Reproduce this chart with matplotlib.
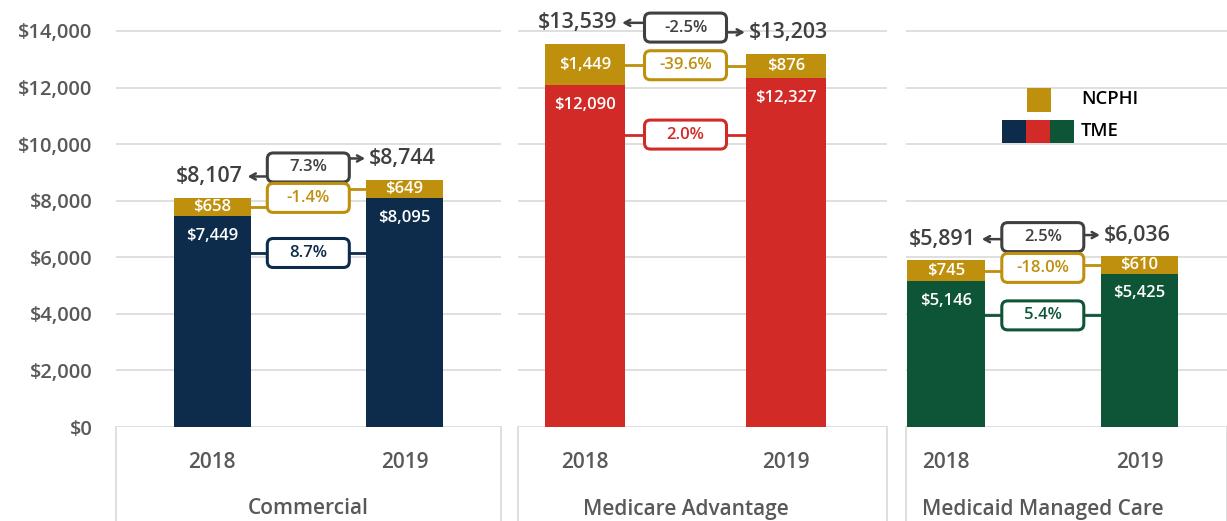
import numpy as np
import matplotlib
matplotlib.use("Agg")
import matplotlib.pyplot as plt
import matplotlib.transforms as mtransforms
from matplotlib.patches import FancyBboxPatch, Rectangle

plt.rcParams['font.family'] = ['Open Sans', 'DejaVu Sans']

# data
segments = ["Commercial", "Medicare Advantage", "Medicaid Managed Care"]
years = ["2018", "2019"]
tme = [[7449, 8095], [12090, 12327], [5146, 5425]]
ncphi = [[658, 649], [1449, 876], [745, 610]]
totals = [[8107, 8744], [13539, 13203], [5891, 6036]]
pct_total = ["7.3%", "-2.5%", "2.5%"]
pct_ncphi = ["-1.4%", "-39.6%", "-18.0%"]
pct_tme = ["8.7%", "2.0%", "5.4%"]

tme_colors = ["#0D2B4B", "#D22B27", "#0E5538"]
gold = "#BF8F0E"
dark = "#404040"
grey = "#595959"
gridc = "#D9D9D9"

W, H = 1227, 521
fig = plt.figure(figsize=(W / 100, H / 100), dpi=100)

# panel layout in pixels: left, right, and x limits so the bars land where they should
panels_px = [(116, 501), (518, 887), (906, 1227)]
xlims = [(-0.499, 1.501), (-0.333, 1.502), (-0.207, 1.452)]
tme_box_drop = [1620, 1870, 1340]
y0_px = 427
ymax = 427 / 396 * 14000
bw = 0.4
lbl_off = 750


def pct_box(ax, x, y, text, color):
    tr = mtransforms.ScaledTranslation(x, y, ax.transData)
    box = FancyBboxPatch((-41, -14.5), 82, 29,
                         boxstyle="round,pad=0,rounding_size=6",
                         fc="white", ec=color, lw=2.2, transform=tr,
                         zorder=5, clip_on=False)
    ax.add_patch(box)
    ax.text(x, y, text, ha="center", va="center", color=color,
            fontsize=12, fontweight="semibold", zorder=6)


for i, (l, r) in enumerate(panels_px):
    ax = fig.add_axes([l / W, (H - y0_px) / H, (r - l) / W, y0_px / H])
    ax.set_xlim(*xlims[i])
    ax.set_ylim(0, ymax)
    for s in ax.spines.values():
        s.set_visible(False)
    ax.set_yticks(np.arange(0, 14001, 2000))
    ax.grid(axis="y", color=gridc, lw=1.2, zorder=0)
    ax.set_axisbelow(True)
    ax.set_xticks([])
    ax.tick_params(axis="y", length=0, pad=17)
    if i == 0:
        ax.set_yticklabels([f"${v:,.0f}" for v in np.arange(0, 14001, 2000)],
                           fontsize=14.5, color=grey, fontweight="semibold")
    else:
        ax.set_yticklabels([])

    x = np.array([0, 1])
    t = np.array(tme[i])
    n = np.array(ncphi[i])
    tot = np.array(totals[i])
    ax.bar(x, t, width=bw, color=tme_colors[i], zorder=2)
    ax.bar(x, n, bottom=t, width=bw, color=gold, zorder=2)

    for k in range(2):
        ax.text(x[k], t[k] - 700, f"${t[k]:,}", ha="center", va="center",
                color="white", fontsize=12, fontweight="semibold", zorder=4)
        ax.text(x[k], t[k] + n[k] / 2, f"${n[k]:,}", ha="center", va="center",
                color="white", fontsize=12, fontweight="semibold", zorder=4)

    # totals with arrows
    yl = tot[0] + lbl_off
    yr = tot[1] + lbl_off
    ax.annotate(f"${tot[0]:,}", xy=(bw / 2, yl), xytext=(-6, 0),
                textcoords="offset points", ha="right", va="center",
                fontsize=15.5, color=dark, fontweight="semibold", zorder=4)
    ax.annotate(f"${tot[1]:,}", xy=(1 - bw / 2, yr), xytext=(2, 0),
                textcoords="offset points", ha="left", va="center",
                fontsize=15.5, color=dark, fontweight="semibold", zorder=4)
    ax.annotate("", xy=(bw / 2 - 0.015, yl), xytext=(0.5, yl),
                arrowprops=dict(arrowstyle="->,head_length=0.4,head_width=0.22",
                                color=dark, lw=1.8, shrinkA=0, shrinkB=0),
                zorder=3, annotation_clip=False)
    ax.annotate("", xy=(1 - bw / 2 - 0.005, yr), xytext=(0.5, yr),
                arrowprops=dict(arrowstyle="->,head_length=0.4,head_width=0.22",
                                color=dark, lw=1.8, shrinkA=0, shrinkB=0),
                zorder=3, annotation_clip=False)
    pct_box(ax, 0.5, (yl + yr) / 2, pct_total[i], dark)

    # NCPHI connector
    gl = t[0] + n[0] / 2
    gr = t[1] + n[1] / 2
    ax.plot([bw / 2, 0.5], [gl, gl], color=gold, lw=2, zorder=3)
    ax.plot([0.5, 1 - bw / 2], [gr, gr], color=gold, lw=2, zorder=3)
    pct_box(ax, 0.5, (gl + gr) / 2, pct_ncphi[i], gold)

    # TME connector
    ty = t.mean() - tme_box_drop[i]
    ax.plot([bw / 2, 1 - bw / 2], [ty, ty], color=tme_colors[i], lw=2, zorder=3)
    pct_box(ax, 0.5, ty, pct_tme[i], tme_colors[i])

    # category area below the axis
    trb = mtransforms.blended_transform_factory(ax.transData, ax.transAxes)
    for k in range(2):
        ax.text(x[k], -35 / y0_px, years[k], transform=trb, ha="center",
                va="center", fontsize=15, color=grey, fontweight="semibold")
    ax.text(0.5, -82 / y0_px, segments[i], transform=trb, ha="center",
            va="center", fontsize=15, color=grey, fontweight="semibold")
    for xe in (0, 1):
        ax.plot([xe, xe], [0, -94 / y0_px], transform=ax.transAxes,
                color=gridc, lw=1.2, clip_on=False)

# legend
def fig_rect(x0, y0, x1, y1, c):
    fig.add_artist(Rectangle((x0 / W, 1 - y1 / H), (x1 - x0) / W, (y1 - y0) / H,
                             transform=fig.transFigure, color=c, lw=0))

fig_rect(1027, 88, 1051, 112, gold)
fig_rect(1002, 120, 1026, 143, tme_colors[0])
fig_rect(1026, 120, 1050, 143, tme_colors[1])
fig_rect(1050, 120, 1074, 143, tme_colors[2])
fig.text(1081 / W, 1 - 99 / H, "NCPHI", ha="left", va="center", fontsize=13.3,
         color="black", fontweight="semibold")
fig.text(1081 / W, 1 - 131 / H, "TME", ha="left", va="center", fontsize=13.3,
         color="black", fontweight="semibold")

fig.savefig("out.png", dpi=100)
